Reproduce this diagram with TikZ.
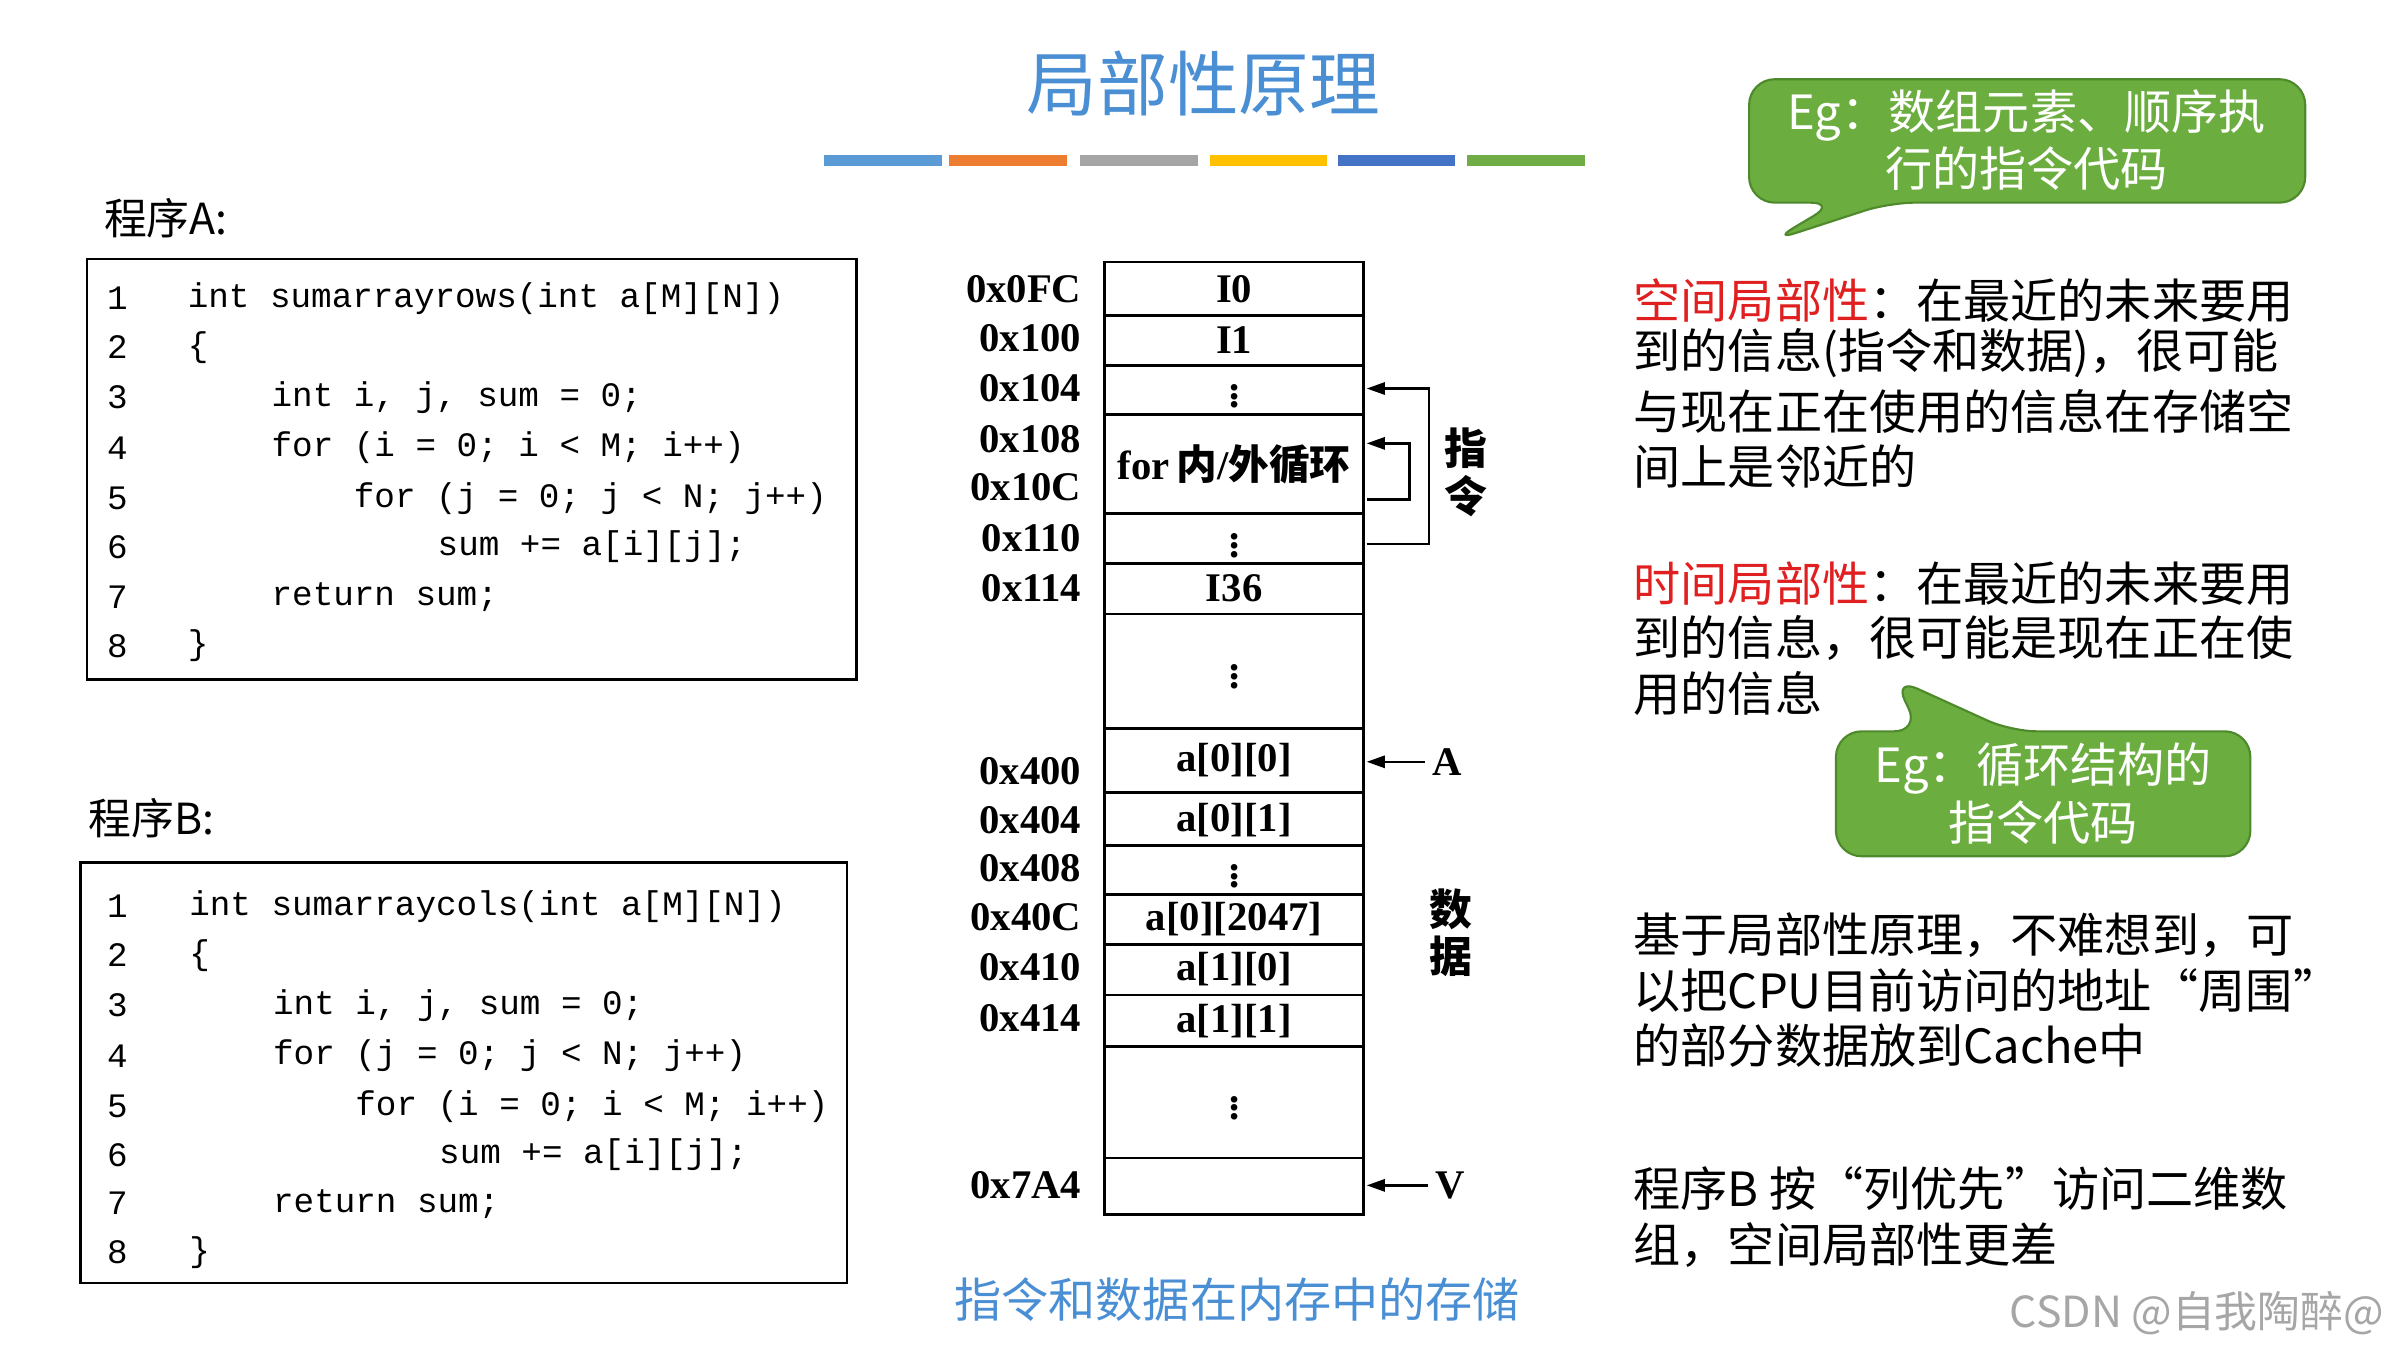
\documentclass[tikz,border=0pt]{standalone}
\usepackage{fontspec}
\setmainfont{Liberation Serif}
\setmonofont{Liberation Mono}
\newfontfamily\cjk{Noto Sans CJK SC}
\usetikzlibrary{arrows.meta}
\definecolor{ttl}{HTML}{4A8FD4}
\definecolor{gfill}{HTML}{6BAE3F}
\definecolor{gline}{HTML}{4E8A2B}
\definecolor{redt}{HTML}{E02020}
\begin{document}
\begin{tikzpicture}[x=0.25mm,y=-0.25mm,
  code/.style={anchor=west,inner sep=0,font=\ttfamily\fontsize{16}{16}\selectfont},
  lab/.style={anchor=east,inner sep=0,font=\bfseries\fontsize{19}{19}\selectfont},
  cell/.style={inner sep=0,font=\bfseries\fontsize{19}{19}\selectfont},
  rt/.style={anchor=west,inner sep=0,font=\cjk\fontsize{22}{22}\selectfont},
  ptr/.style={-{Triangle[length=3mm,width=2mm]},line width=1.2pt}]
\useasboundingbox (0,0) rectangle (1568,887);
\node (title) at (790,55) {\cjk\fontsize{33}{33}\selectfont\color{ttl}局部性原理};
\foreach \a/\c in {541/5B9BD5,623/ED7D31,709/A5A5A5,794/FFC000,878/4472C4,963/70AD47}{
  \definecolor{tmp}{HTML}{\c}\fill[tmp] (\a,102) rectangle ++(77,7);}
% Program A
\node[anchor=west,inner sep=0] (pa) at (68,143) {\cjk\fontsize{20}{20}\selectfont 程序A:};
\draw[line width=1.2pt] (57,170) rectangle (562,446);
\foreach \y/\n in {196/1,228/2,261/3,294/4,327/5,359/6,392/7,424/8}
  \node[code] at (70,\y) {\n};
\node[code] at (123,196) {int sumarrayrows(int a[M][N])};
\node[code] at (123,228) {\{};
\node[code] at (178,261) {int i, j, sum = 0;};
\node[code] at (178,294) {for (i = 0; i < M; i++)};
\node[code] at (232,327) {for (j = 0; j < N; j++)};
\node[code] at (287,359) {sum += a[i][j];};
\node[code] at (178,392) {return sum;};
\node[code] at (123,424) {\}};
% Program B
\node[anchor=west,inner sep=0] (pb) at (58,537) {\cjk\fontsize{20}{20}\selectfont 程序B:};
\draw[line width=1.2pt] (53,566) rectangle (556,842);
\foreach \y/\n in {595/1,627/2,660/3,693/4,726/5,758/6,790/7,822/8}
  \node[code] at (70,\y) {\n};
\node[code] at (124,595) {int sumarraycols(int a[M][N])};
\node[code] at (124,627) {\{};
\node[code] at (179,660) {int i, j, sum = 0;};
\node[code] at (179,693) {for (j = 0; j < N; j++)};
\node[code] at (233,726) {for (i = 0; i < M; i++)};
\node[code] at (288,758) {sum += a[i][j];};
\node[code] at (179,790) {return sum;};
\node[code] at (124,822) {\}};
% memory
\draw[line width=1.2pt] (725,172) rectangle (895,797);
\foreach \y in {207,240,272,337,370,403,478,520,555,587,620,653,687,760}
  \draw[line width=1.2pt] (725,\y) -- (895,\y);
\foreach \y/\t in {190/0x0FC,222/0x100,255/0x104,288/0x108,320/0x10C,353/0x110,386/0x114,506/0x400,538/0x404,570/0x408,602/0x40C,635/0x410,668/0x414,778/0x7A4}
  \node[lab] at (710,\y) {\t};
\foreach \y/\t in {190/I0,223/I1,256/$\vdots$,354/$\vdots$,386/I36,440/$\vdots$,499/a[0][0],538/a[0][1],571/$\vdots$,603/a[0][2047],636/a[1][0],670/a[1][1],723/$\vdots$}
  \node[cell] at (810,\y) {\t};
\node[cell] (loop) at (810,305) {for\,{\cjk 内}/{\cjk 外循环}};
\coordinate (b1) at (897,255); \coordinate (b2) at (897,357);
\draw[ptr] (b2) -- (938,357) -- (938,255) -- (b1);
\coordinate (c1) at (897,291); \coordinate (c2) at (897,328);
\draw[ptr] (c2) -- (925,328) -- (925,291) -- (c1);
\node (zl) at (962,310) {\cjk\bfseries\fontsize{20}{22}\selectfont\shortstack{指\\令}};
\node (A) at (950,500) {\bfseries\fontsize{19}{19}\selectfont A};
\draw[ptr] (A.west) -- (897,500);
\node (V) at (952,778) {\bfseries\fontsize{19}{19}\selectfont V};
\draw[ptr] (V.west) -- (897,778);
\node (sj) at (952,612) {\cjk\bfseries\fontsize{20}{22}\selectfont\shortstack{数\\据}};
\node (cap) at (812,853) {\cjk\fontsize{22}{22}\selectfont\color{ttl}指令和数据在内存中的存储};
% callout 1
\draw[gline,fill=gfill,line width=1pt,rounded corners=12] (1148,52) -- (1513,52) -- (1513,133) -- (1240,133) -- (1163,158) -- (1205,133) -- (1148,133) -- cycle;
\node[white,align=center,font=\cjk\fontsize{22}{27}\selectfont] (e1) at (1330,92) {Eg：数组元素、顺序执\\行的指令代码};
% right text
\node[rt] at (1072,197) {\color{redt}空间局部性\color{black}：在最近的未来要用};
\node[rt] at (1072,232) {到的信息(指令和数据)，很可能};
\node[rt] at (1072,270) {与现在正在使用的信息在存储空};
\node[rt] at (1072,306) {间上是邻近的};
\node[rt] at (1072,383) {\color{redt}时间局部性\color{black}：在最近的未来要用};
\node[rt] at (1072,419) {到的信息，很可能是现在正在使};
\node[rt] at (1072,455) {用的信息};
\draw[gline,fill=gfill,line width=1pt,rounded corners=12] (1205,480) -- (1260,480) -- (1243,445) -- (1320,480) -- (1477,480) -- (1477,562) -- (1205,562) -- cycle;
\node[white,align=center,font=\cjk\fontsize{22}{27}\selectfont] (e2) at (1341,521) {Eg：循环结构的\\指令代码};
\node[rt] at (1072,614) {基于局部性原理，不难想到，可};
\node[rt] at (1072,650) {以把CPU目前访问的地址“周围”};
\node[rt] at (1072,686) {的部分数据放到Cache中};
\node[rt] at (1072,780) {程序B 按“列优先”访问二维数};
\node[rt] at (1072,817) {组，空间局部性更差};
\node[anchor=east,inner sep=0,font=\cjk\fontsize{20}{20}\selectfont,gray!70] (csdn) at (1565,862) {CSDN @自我陶醉@};
\end{tikzpicture}
\end{document}
